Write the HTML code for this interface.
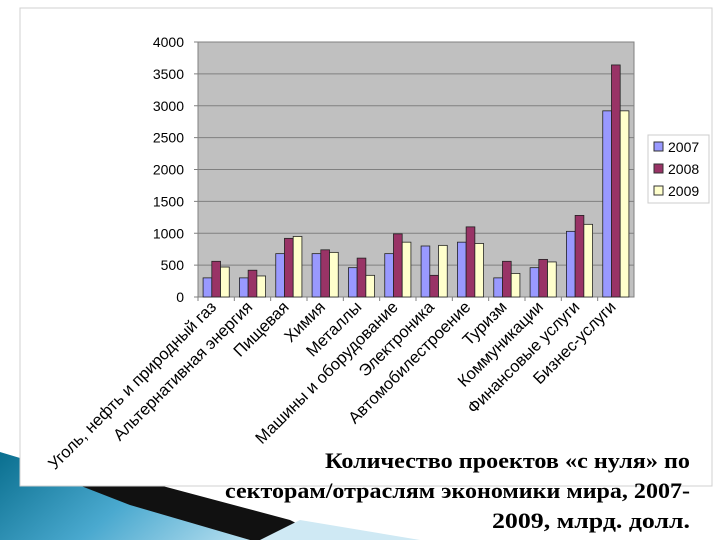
<!DOCTYPE html>
<html><head><meta charset="utf-8"><style>
body{margin:0;width:720px;height:540px;overflow:hidden;background:#fff;font-family:"Liberation Sans",sans-serif}
</style></head><body>
<svg width="720" height="540">
<defs>
<linearGradient id="bl" x1="0" y1="0" x2="1" y2="0.3"><stop offset="0" stop-color="#0a6f8f"/><stop offset="0.5" stop-color="#4aa9cf"/><stop offset="1" stop-color="#bfe3f2"/></linearGradient>
</defs>
<g>
<polygon points="0,452 60,470 200,505 330,540 0,540" fill="url(#bl)"/>
<polygon points="40,470 140,480 290,520 330,540 250,540 130,505" fill="#111"/>
<polygon points="260,540 300,520 420,540" fill="#cfe9f4"/>
</g>
<rect x="20" y="8" width="692" height="478" fill="#fff" stroke="#d0d0d0"/>
<g id="chart"></g>
<g>
<rect x="648" y="135" width="61" height="68" fill="#fff" stroke="#ccc"/>
<rect x="654" y="142" width="9" height="9" fill="#9999ff" stroke="#333"/>
<text x="668" y="152" font-size="14">2007</text>
<rect x="654" y="164" width="9" height="9" fill="#993366" stroke="#333"/>
<text x="668" y="174" font-size="14">2008</text>
<rect x="654" y="186" width="9" height="9" fill="#ffffcc" stroke="#333"/>
<text x="668" y="196" font-size="14">2009</text>
</g>
<g font-family="Liberation Serif,serif" font-weight="bold" font-size="22" text-anchor="end">
<text x="690" y="468" textLength="365" lengthAdjust="spacingAndGlyphs">Количество проектов «с нуля» по</text>
<text x="690" y="498" textLength="465" lengthAdjust="spacingAndGlyphs">секторам/отраслям экономики мира, 2007-</text>
<text x="690" y="528" textLength="198" lengthAdjust="spacingAndGlyphs">2009, млрд. долл.</text>
</g>
</svg>
<script>
const categories=["Уголь, нефть и природный газ","Альтернативная энергия","Пищевая","Химия","Металлы","Машины и оборудование","Электроника","Автомобилестроение","Туризм","Коммуникации","Финансовые услуги","Бизнес-услуги"];
const s2007=[300,300,680,680,460,680,800,860,300,460,1030,2920];
const s2008=[560,420,920,740,610,990,340,1100,560,590,1280,3640];
const s2009=[470,330,950,700,340,860,810,840,370,550,1140,2920];
const yTicks=[0,500,1000,1500,2000,2500,3000,3500,4000];
const NS="http://www.w3.org/2000/svg";
const g=document.getElementById('chart');
const X0=198,X1=634,Y0=297,Y1=42,MAX=4000;
const bw=(X1-X0)/categories.length;
const y=v=>Y0-(v/MAX)*(Y0-Y1);
function mk(t,a,p){const e=document.createElementNS(NS,t);for(const k in a)e.setAttribute(k,a[k]);(p||g).appendChild(e);return e;}
const pa=mk('rect',{x:X0,y:Y1,width:X1-X0,height:Y0-Y1,fill:'#c0c0c0',stroke:'#808080'});


yTicks.forEach(t=>{
 const l=mk('line',{x1:X0-4,x2:X1,y1:y(t),y2:y(t),stroke:'#808080'});
 
 
 const tx=mk('text',{x:X0-14,y:y(t)+5,'font-size':14,'text-anchor':'end'});
 tx.textContent=t;
 
 
});
const series=[[s2007,'#9999ff','2007'],[s2008,'#993366','2008'],[s2009,'#ffffcc','2009']];
categories.forEach((c,i)=>{
 const cx=X0+bw*(i+0.5);
 const w=bw*0.24;
 series.forEach((s,j)=>{
  const v=s[0][i];
  const r=mk('rect',{x:cx+(j-1.5)*w,y:y(v),width:w,height:Y0-y(v),fill:s[1],stroke:'#222','stroke-width':0.8});
  
  
 });
 const tk=mk('line',{x1:X0+bw*i,x2:X0+bw*i,y1:Y0,y2:Y0+4,stroke:'#808080'});
 
 
 const t=mk('text',{x:0,y:0,'font-size':16.5,'text-anchor':'end',transform:`translate(${cx+1},${Y0+11}) rotate(-45)`});
 t.textContent=c;
 
 
});
</script>
</body></html>
